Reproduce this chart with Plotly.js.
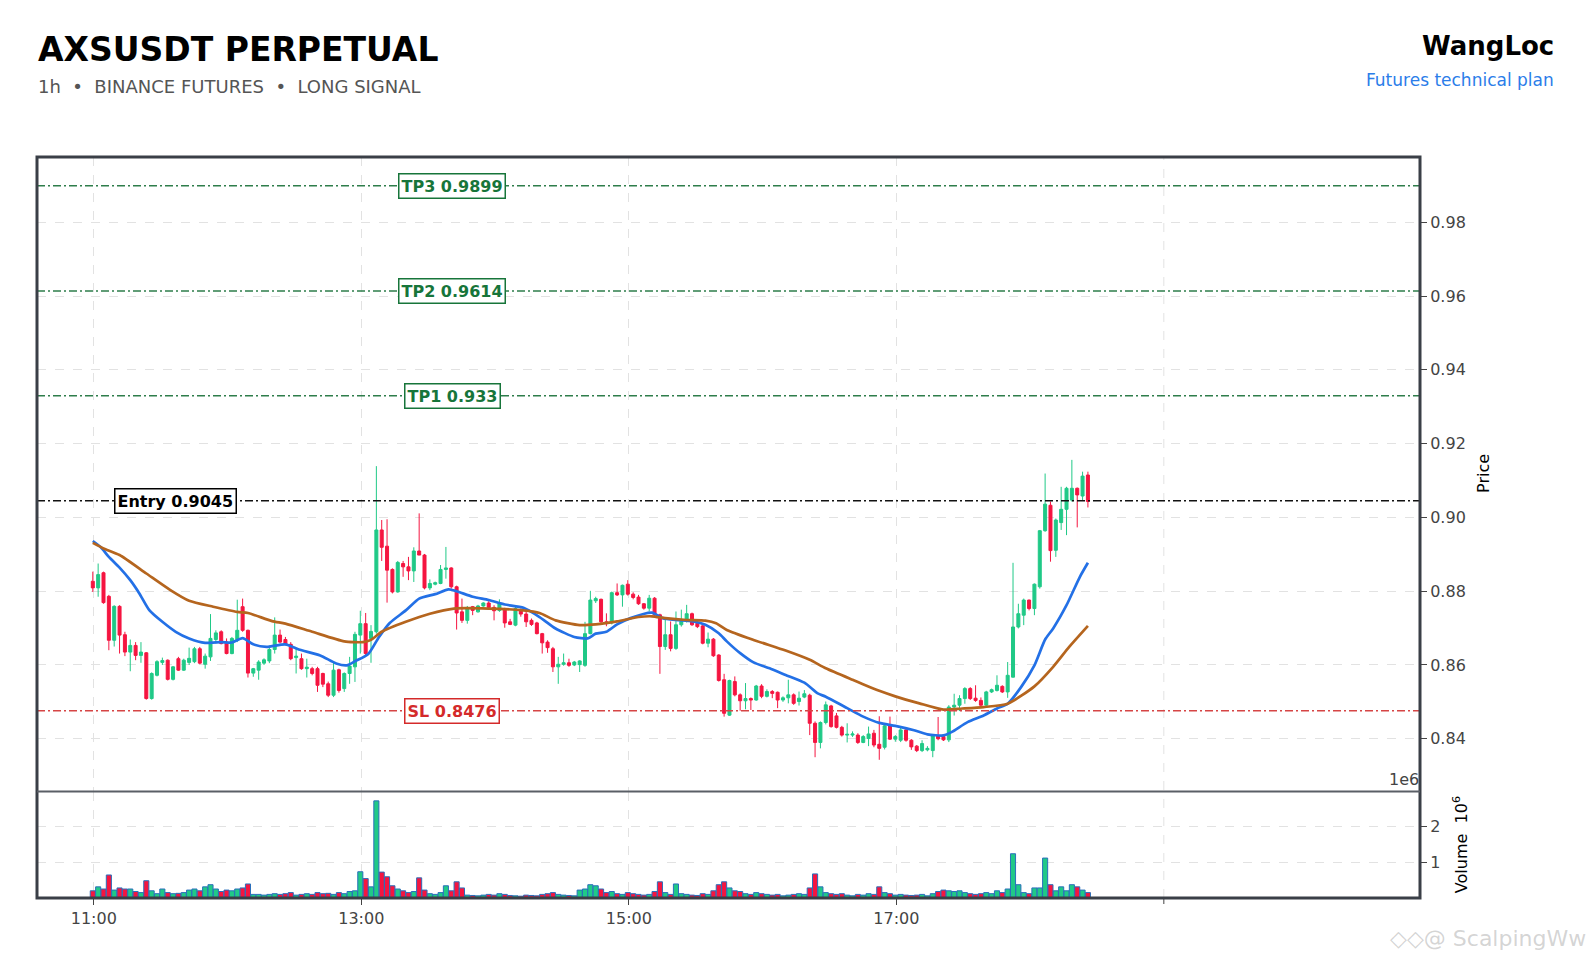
<!DOCTYPE html>
<html>
<head>
<meta charset="utf-8">
<script src="https://cdn.plot.ly/plotly-3.0.1.min.js"></script>
<style>html,body{margin:0;padding:0;background:#fff;}#chart{width:1590px;height:962px;}</style>
</head>
<body>
<div id="chart"></div>
<script>
// ---------- data ----------
const dayDate = '2024-05-20';
const startClock = '10:59:33';
const candleSeconds = 144;

const openP = [
.8827,.8809,.8850,.8786,.8667,.8759,.8682,.8635,.8653,.8626,
.8633,.8509,.8572,.8607,.8613,.8561,.8617,.8586,.8607,.8609,
.8644,.8602,.8622,.8669,.8690,.8662,.8631,.8669,.8758,.8694,
.8578,.8586,.8605,.8611,.8642,.8681,.8669,.8656,.8620,.8617,
.8590,.8590,.8590,.8577,.8549,.8518,.8587,.8536,.8577,.8595,
.8681,.8712,.8672,.8690,.8966,.8922,.8859,.8798,.8875,.8866,
.8855,.8909,.8898,.8809,.8819,.8821,.8859,.8863,.8812,.8744,
.8721,.8758,.8744,.8760,.8768,.8756,.8748,.8753,.8717,.8708,
.8748,.8738,.8721,.8714,.8685,.8662,.8644,.8595,.8602,.8606,
.8600,.8601,.8599,.8685,.8774,.8778,.8717,.8714,.8796,.8790,
.8819,.8792,.8784,.8766,.8754,.8781,.8736,.8650,.8682,.8645,
.8709,.8718,.8739,.8713,.8706,.8659,.8670,.8627,.8560,.8464,
.8555,.8519,.8503,.8509,.8505,.8543,.8515,.8528,.8526,.8505,
.8511,.8519,.8501,.8513,.8518,.8442,.8390,.8444,.8489,.8462,
.8431,.8410,.8410,.8410,.8390,.8401,.8415,.8385,.8377,.8435,
.8399,.8396,.8424,.8396,.8380,.8368,.8370,.8368,.8409,.8406,
.8397,.8486,.8491,.8509,.8536,.8510,.8504,.8491,.8527,.8531,
.8542,.8527,.8567,.8703,.8735,.8776,.8753,.8812,.8964,.9033,
.8911,.8986,.9022,.9047,.9079,.9058,.9115];

const highP = [
.8853,.8875,.8853,.8790,.8762,.8762,.8690,.8669,.8662,.8662,
.8635,.8580,.8613,.8620,.8615,.8597,.8622,.8617,.8647,.8649,
.8649,.8631,.8738,.8694,.8694,.8672,.8676,.8777,.8780,.8696,
.8592,.8613,.8618,.8653,.8729,.8696,.8676,.8662,.8644,.8631,
.8617,.8595,.8595,.8579,.8555,.8608,.8590,.8580,.8622,.8690,
.8747,.8741,.8708,.9139,.8993,.8995,.8862,.8882,.8882,.8893,
.8919,.9011,.8901,.8832,.8826,.8871,.8920,.8865,.8815,.8780,
.8760,.8760,.8763,.8770,.8773,.8762,.8778,.8755,.8725,.8758,
.8753,.8753,.8726,.8717,.8687,.8667,.8649,.8622,.8631,.8617,
.8611,.8613,.8717,.8801,.8785,.8780,.8740,.8799,.8821,.8818,
.8830,.8797,.8790,.8768,.8790,.8784,.8739,.8722,.8718,.8745,
.8750,.8763,.8742,.8716,.8709,.8688,.8673,.8629,.8576,.8560,
.8569,.8523,.8551,.8512,.8546,.8548,.8534,.8532,.8528,.8515,
.8560,.8523,.8528,.8532,.8522,.8447,.8447,.8501,.8492,.8470,
.8435,.8442,.8420,.8415,.8410,.8433,.8424,.8461,.8438,.8460,
.8410,.8432,.8428,.8399,.8383,.8396,.8380,.8412,.8459,.8410,
.8491,.8522,.8518,.8540,.8540,.8545,.8512,.8530,.8536,.8572,
.8545,.8608,.8877,.8766,.8780,.8777,.8821,.8966,.9119,.9043,
.8997,.9083,.9083,.9156,.9081,.9124,.9124];

const lowP = [
.8798,.8785,.8766,.8640,.8650,.8631,.8624,.8583,.8613,.8606,
.8506,.8506,.8569,.8600,.8558,.8558,.8584,.8584,.8600,.8605,
.8602,.8590,.8611,.8658,.8656,.8629,.8629,.8662,.8690,.8566,
.8568,.8560,.8600,.8605,.8631,.8658,.8653,.8613,.8577,.8587,
.8566,.8572,.8527,.8540,.8513,.8513,.8525,.8527,.8549,.8554,
.8631,.8627,.8606,.8685,.8882,.8769,.8794,.8796,.8839,.8830,
.8825,.8906,.8805,.8803,.8816,.8819,.8834,.8807,.8696,.8714,
.8712,.8735,.8742,.8758,.8751,.8721,.8744,.8701,.8708,.8705,
.8731,.8703,.8706,.8683,.8631,.8633,.8581,.8549,.8598,.8595,
.8597,.8581,.8595,.8683,.8768,.8712,.8705,.8710,.8787,.8758,
.8788,.8778,.8763,.8750,.8745,.8733,.8576,.8641,.8637,.8641,
.8704,.8715,.8706,.8700,.8656,.8648,.8622,.8555,.8460,.8462,
.8515,.8476,.8480,.8478,.8503,.8510,.8512,.8510,.8483,.8500,
.8496,.8492,.8490,.8510,.8410,.8350,.8374,.8439,.8430,.8428,
.8406,.8390,.8405,.8386,.8388,.8380,.8377,.8343,.8371,.8397,
.8392,.8391,.8392,.8370,.8364,.8364,.8366,.8350,.8396,.8394,
.8391,.8463,.8475,.8495,.8505,.8500,.8488,.8488,.8524,.8528,
.8524,.8511,.8566,.8699,.8708,.8748,.8735,.8807,.8961,.8880,
.8893,.8966,.8952,.9043,.8973,.9047,.9027];

const closeP = [
.8809,.8845,.8769,.8667,.8759,.8681,.8635,.8653,.8626,.8635,
.8509,.8577,.8609,.8612,.8561,.8595,.8586,.8613,.8618,.8644,
.8605,.8624,.8672,.8687,.8658,.8631,.8672,.8694,.8694,.8578,
.8590,.8608,.8614,.8642,.8681,.8662,.8656,.8617,.8624,.8590,
.8594,.8577,.8545,.8548,.8518,.8586,.8531,.8577,.8597,.8683,
.8712,.8631,.8691,.8966,.8919,.8857,.8798,.8878,.8866,.8855,
.8909,.8898,.8809,.8821,.8823,.8859,.8863,.8812,.8741,.8721,
.8753,.8748,.8760,.8768,.8756,.8747,.8767,.8714,.8710,.8753,
.8738,.8717,.8710,.8685,.8660,.8647,.8595,.8602,.8606,.8599,
.8608,.8611,.8685,.8776,.8780,.8717,.8712,.8796,.8790,.8816,
.8792,.8783,.8766,.8754,.8781,.8736,.8650,.8682,.8645,.8709,
.8718,.8739,.8709,.8704,.8659,.8670,.8625,.8558,.8469,.8558,
.8519,.8503,.8509,.8505,.8543,.8515,.8528,.8523,.8505,.8511,
.8519,.8496,.8510,.8522,.8442,.8390,.8444,.8492,.8433,.8431,
.8410,.8412,.8413,.8390,.8406,.8413,.8383,.8374,.8435,.8399,
.8406,.8424,.8396,.8378,.8368,.8387,.8374,.8409,.8400,.8397,
.8486,.8491,.8509,.8536,.8509,.8504,.8491,.8527,.8533,.8545,
.8527,.8572,.8703,.8739,.8776,.8753,.8819,.8964,.9036,.8910,
.8993,.9022,.9079,.9079,.9061,.9112,.9043];

// volume in millions of contracts
const volumeM = [
.20,.31,.25,.64,.22,.28,.25,.25,.18,.15,
.48,.20,.12,.25,.15,.12,.13,.15,.22,.25,
.20,.31,.37,.25,.18,.22,.20,.25,.28,.39,
.10,.10,.08,.10,.12,.10,.12,.15,.08,.10,
.12,.10,.15,.12,.13,.10,.15,.12,.18,.20,
.73,.54,.31,2.70,.72,.59,.34,.25,.20,.15,
.18,.56,.22,.12,.10,.15,.34,.20,.45,.28,
.08,.07,.06,.08,.10,.08,.12,.10,.07,.06,
.05,.08,.07,.06,.10,.12,.15,.10,.08,.07,
.06,.22,.25,.37,.34,.25,.15,.18,.12,.10,
.15,.12,.10,.08,.10,.18,.45,.15,.10,.39,
.12,.10,.08,.07,.12,.10,.20,.37,.45,.28,
.20,.18,.12,.10,.15,.12,.10,.08,.10,.06,
.08,.10,.12,.10,.28,.67,.31,.15,.12,.10,
.12,.08,.06,.10,.08,.12,.10,.31,.15,.12,
.08,.10,.08,.07,.08,.10,.06,.12,.18,.22,
.20,.18,.20,.15,.12,.10,.12,.15,.12,.20,
.15,.25,1.23,.37,.15,.12,.28,.28,1.11,.37,
.20,.31,.20,.37,.31,.22,.15];

// moving averages, read at candle positions (index, value)
const maFastIdx = [0,1.5,3,5,7,8.7,10.6,13,15.5,18,21,24,26,28,30,32.5,36,38.5,42.5,45.5,47.5,49,51.5,53.5,55.5,58.5,61,64,66.5,68,71,74,77,80.5,83.5,86.5,90,92.5,94,96,98,100.5,104.5,106.5,109,112,114.5,117,118.5,121,123.5,126.5,129.5,133,135.5,137,141,144,147,150,153.5,156,159,160.5,163.5,166.5,169,171,173.5,176,178,179.5,182,184.5,186];
const maFastVal = [.8936,.8919,.8893,.8864,.8830,.8794,.8748,.8717,.8690,.8672,.8660,.8662,.8661,.8673,.8656,.8649,.8656,.8642,.8626,.8604,.8599,.8610,.8630,.8676,.8714,.8748,.8780,.8792,.8805,.8800,.8785,.8776,.8764,.8755,.8730,.8699,.8676,.8672,.8685,.8690,.8710,.8727,.8742,.8727,.8722,.8719,.8709,.8686,.8664,.8632,.8607,.8591,.8573,.8552,.8523,.8514,.8483,.8460,.8443,.8435,.8423,.8412,.8409,.8418,.8445,.8463,.8482,.8495,.8540,.8599,.8669,.8699,.8762,.8839,.8877];
const maSlowIdx = [0,2,5,10,14.5,18,22.5,27,29,33.5,36,41,47,50.5,52,54,58.5,63,67.5,74,80.5,83.5,86.5,91,94,98,102,104.5,107,111,114.5,116.5,118.5,123.5,129.5,134,137,142,147,150,154.5,159,162.5,166.5,171,176,179.5,182.5,186];
const maSlowVal = [.8931,.8916,.8898,.8848,.8803,.8774,.8758,.8744,.8741,.8719,.8712,.8690,.8664,.8662,.8668,.8690,.8717,.8739,.8753,.8753,.8748,.8741,.8721,.8708,.8710,.8718,.8730,.8732,.8727,.8722,.8720,.8713,.8695,.8668,.8639,.8614,.8591,.8560,.8530,.8515,.8496,.8479,.8482,.8486,.8495,.8542,.8595,.8649,.8706];

const levelNames  = ['TP3','TP2','TP1','Entry','SL'];
const levelPrices = [0.9899, 0.9614, 0.933, 0.9045, 0.8476];

const tickTimes   = ['11:00','13:00','15:00','17:00'];
const tickLabels  = ['11:00','13:00','15:00','17:00'];
const extraTick   = '19:00';   // tick and grid without a label
const priceTicks  = [0.84,0.86,0.88,0.90,0.92,0.94,0.96,0.98];

// ---------- helpers ----------
function clockToSec(c){const p=c.split(':').map(Number);return p[0]*3600+p[1]*60+(p[2]||0);}
function pad(n){return String(n).padStart(2,'0');}
const startSec = clockToSec(startClock);
function timeAt(idx){
  const s = Math.round(startSec + idx*candleSeconds);
  return dayDate+' '+pad(Math.floor(s/3600))+':'+pad(Math.floor(s%3600/60))+':'+pad(s%60);
}
const x = openP.map((_,i)=>timeAt(i));

const UP='#20c987', DOWN='#f51540';
const volColors = closeP.map((c,i)=> c>=openP[i]?UP:DOWN);

const FONT='DejaVu Sans';
const traces = [
  {type:'candlestick', x:x, open:openP, high:highP, low:lowP, close:closeP,
   xaxis:'x', yaxis:'y', whiskerwidth:0,
   increasing:{line:{color:UP,width:1}, fillcolor:UP},
   decreasing:{line:{color:DOWN,width:1}, fillcolor:DOWN},
   hoverinfo:'skip', showlegend:false},
  {type:'scatter', mode:'lines', x:maFastIdx.map(timeAt), y:maFastVal, xaxis:'x', yaxis:'y',
   line:{color:'#2370e6', width:2.7, shape:'spline', smoothing:0.6}, hoverinfo:'skip', showlegend:false},
  {type:'scatter', mode:'lines', x:maSlowIdx.map(timeAt), y:maSlowVal, xaxis:'x', yaxis:'y',
   line:{color:'#b5651e', width:2.7, shape:'spline', smoothing:0.6}, hoverinfo:'skip', showlegend:false},
  {type:'bar', x:x, y:volumeM, xaxis:'x2', yaxis:'y2', width:candleSeconds*1000*0.95,
   marker:{color:volColors, line:{color:'#2a6fbb', width:1}}, hoverinfo:'skip', showlegend:false}
];

const VOL_TOP = 0.1437;
const levelStyle = {
  TP3:{line:'#2e7d4b', text:'#17753a'}, TP2:{line:'#2e7d4b', text:'#17753a'}, TP1:{line:'#2e7d4b', text:'#17753a'},
  Entry:{line:'#111111', text:'#000000'}, SL:{line:'#d64545', text:'#d42a2a'}
};
const shapes = [];
const annotations = [];
levelNames.forEach((n,i)=>{
  const st = levelStyle[n];
  shapes.push({type:'line', xref:'paper', yref:'y', x0:0, x1:1, y0:levelPrices[i], y1:levelPrices[i],
    line:{color:st.line, width:1.5, dash:'8px,3px,2px,3px'}, layer:'above'});
  annotations.push({xref:'paper', yref:'y', x: n==='Entry'?0.1005:0.3001, y:levelPrices[i],
    text:'<b>'+n+' '+levelPrices[i]+'</b>', showarrow:false, xanchor:'center', yanchor:'middle',
    font:{family:FONT, size:16, color:st.text}, bgcolor:'#ffffff', bordercolor:st.text, borderwidth:1.5, borderpad:2});
});
// unlabeled 19:00 tick and grid line
const extraT = dayDate+' '+extraTick;
shapes.push({type:'line', xref:'x', yref:'paper', x0:extraT, x1:extraT, y0:0, y1:1,
  line:{color:'#e2e2e2', width:1, dash:'dash'}, layer:'below'});
shapes.push({type:'line', xref:'x', yref:'paper', x0:extraT, x1:extraT, y0:0, y1:-0.0081,
  line:{color:'#444', width:1}});
// panel frames
shapes.push({type:'rect', xref:'paper', yref:'paper', x0:0, x1:1, y0:0, y1:1, line:{color:'#3a3f47', width:3}, layer:'above'});
shapes.push({type:'line', xref:'paper', yref:'paper', x0:0, x1:1, y0:VOL_TOP, y1:VOL_TOP, line:{color:'#5a5f66', width:2}, layer:'above'});

// header & axis texts
annotations.push(
  {xref:'paper', yref:'paper', x:-0.001, y:1.1455, xanchor:'left', yanchor:'middle', showarrow:false,
   text:'<b>AXSUSDT PERPETUAL</b>', font:{family:FONT, size:33, color:'#000'}},
  {xref:'paper', yref:'paper', x:-0.001, y:1.0945, xanchor:'left', yanchor:'middle', showarrow:false,
   text:'1h\u00a0\u00a0•\u00a0\u00a0BINANCE FUTURES\u00a0\u00a0•\u00a0\u00a0LONG SIGNAL', font:{family:FONT, size:18, color:'#555555'}},
  {xref:'paper', yref:'paper', x:1.0985, y:1.1500, xanchor:'right', yanchor:'middle', showarrow:false,
   text:'<b>WangLoc</b>', font:{family:FONT, size:26, color:'#000'}},
  {xref:'paper', yref:'paper', x:1.0985, y:1.1040, xanchor:'right', yanchor:'middle', showarrow:false,
   text:'Futures technical plan', font:{family:FONT, size:17, color:'#2b7de9'}},
  {xref:'paper', yref:'paper', x:1.0455, y:0.5735, xanchor:'center', yanchor:'middle', showarrow:false, textangle:-90,
   text:'Price', font:{family:FONT, size:16, color:'#000'}},
  {xref:'paper', yref:'paper', x:1.0290, y:0.0715, xanchor:'center', yanchor:'middle', showarrow:false, textangle:-90,
   text:'Volume\u00a0\u00a010<sup>6</sup>', font:{family:FONT, size:16, color:'#000'}},
  {xref:'paper', yref:'paper', x:1.001, y:VOL_TOP+0.0005, xanchor:'right', yanchor:'bottom', showarrow:false,
   text:'1e6', font:{family:FONT, size:16, color:'#444'}},
  {xref:'paper', yref:'paper', x:1.1215, y:-0.0545, xanchor:'right', yanchor:'middle', showarrow:false,
   text:'◇◇@ ScalpingWw', font:{family:FONT, size:22, color:'rgba(160,160,160,0.45)'}}
);

const gridStyle = {showgrid:true, gridcolor:'#e2e2e2', griddash:'dash', gridwidth:1};
const xRange = [dayDate+' 10:34:31', dayDate+' 20:54:55'];
const layout = {
  width:1590, height:962, paper_bgcolor:'#fff', plot_bgcolor:'#fff',
  margin:{l:37, r:170, t:157, b:64}, showlegend:false, boxgap:0.2, bargap:0,
  font:{family:FONT, size:16, color:'#444'},
  xaxis:Object.assign({type:'date', anchor:'y', range:xRange, showticklabels:false, ticks:'',
    tickvals:tickTimes.map(t=>dayDate+' '+t), rangeslider:{visible:false}, zeroline:false, showline:false}, gridStyle),
  xaxis2:Object.assign({type:'date', anchor:'y2', matches:'x', range:xRange,
    tickvals:tickTimes.map(t=>dayDate+' '+t), ticktext:tickLabels, ticks:'outside', ticklen:6, tickcolor:'#444',
    tickfont:{family:FONT, size:16, color:'#444'}, zeroline:false, showline:false}, gridStyle),
  yaxis:Object.assign({domain:[VOL_TOP,1], anchor:'x', side:'right', range:[0.8257,0.9977],
    tickvals:priceTicks, tickformat:'.2f', ticks:'outside', ticklen:6, tickcolor:'#444',
    tickfont:{family:FONT, size:16, color:'#444'}, zeroline:false, showline:false}, gridStyle),
  yaxis2:Object.assign({domain:[0,VOL_TOP], anchor:'x2', side:'right', range:[0,2.96],
    tickvals:[1,2], ticktext:['1','2'], ticks:'outside', ticklen:6, tickcolor:'#444',
    tickfont:{family:FONT, size:16, color:'#444'}, zeroline:false, showline:false}, gridStyle),
  shapes:shapes, annotations:annotations
};
Plotly.newPlot('chart', traces, layout, {staticPlot:true, displayModeBar:false});
</script>
</body>
</html>
